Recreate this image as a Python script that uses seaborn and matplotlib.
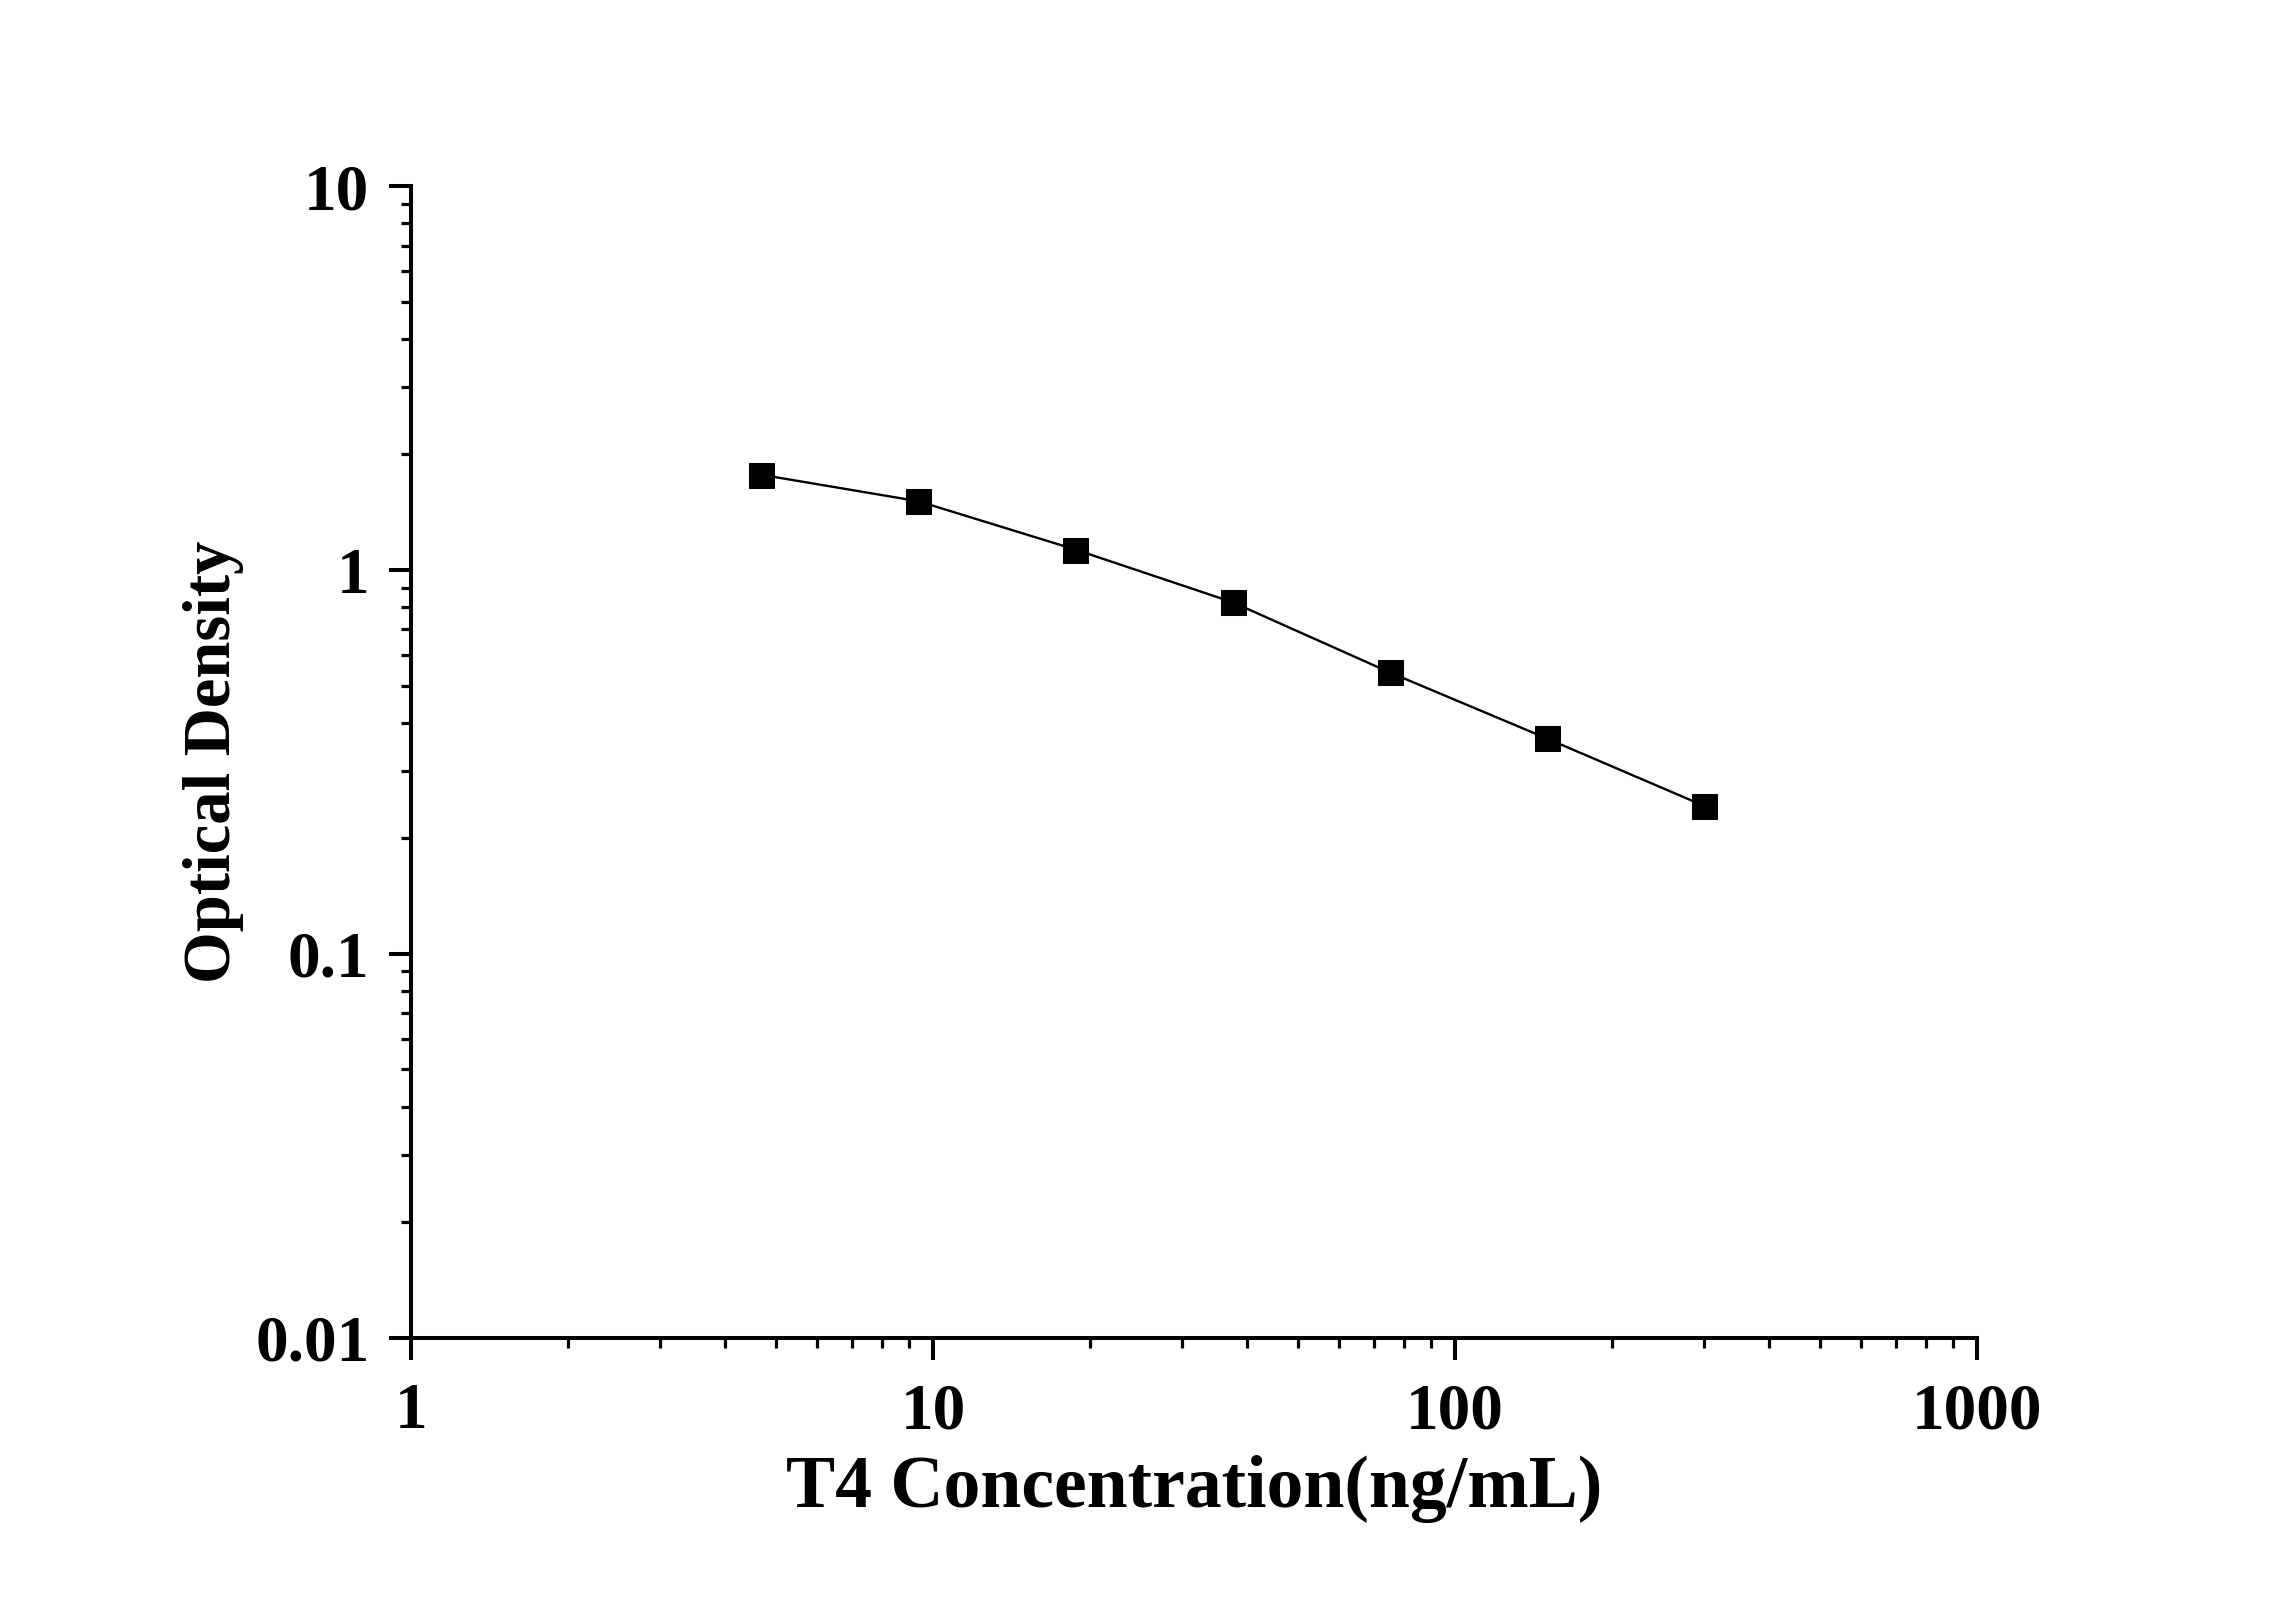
import matplotlib
matplotlib.use("Agg")
import matplotlib.pyplot as plt
import seaborn as sns
import pandas as pd
from matplotlib.ticker import LogLocator, FixedLocator, FixedFormatter, NullFormatter

concentration = [4.69, 9.38, 18.75, 37.5, 75, 150, 300]
optical_density = [1.77, 1.51, 1.13, 0.824, 0.541, 0.364, 0.243]
x_ticks = [1, 10, 100, 1000]
x_tick_labels = ["1", "10", "100", "1000"]
y_ticks = [0.01, 0.1, 1, 10]
y_tick_labels = ["0.01", "0.1", "1", "10"]

sns.set_style("ticks")
plt.rcParams['font.family'] = ['Liberation Serif', 'DejaVu Serif']
plt.rcParams['font.weight'] = 'bold'
plt.rcParams['text.color'] = 'black'
plt.rcParams['axes.labelcolor'] = 'black'
plt.rcParams['xtick.color'] = 'black'
plt.rcParams['ytick.color'] = 'black'
plt.rcParams['xtick.labelcolor'] = 'black'
plt.rcParams['ytick.labelcolor'] = 'black'

df = pd.DataFrame({"conc": concentration, "od": optical_density})

fig = plt.figure(figsize=(22.96, 16.04), dpi=100)
ax = fig.add_axes([0.179, 0.166, 0.682, 0.718])

sns.lineplot(data=df, x="conc", y="od", ax=ax, color="black", linewidth=1.7,
             marker="s", markersize=18, markeredgecolor="black",
             markerfacecolor="black", errorbar=None)

ax.set_xscale("log")
ax.set_yscale("log")
ax.set_xlim(1, 1000)
ax.set_ylim(0.01, 10)

ax.xaxis.set_major_locator(FixedLocator(x_ticks))
ax.xaxis.set_major_formatter(FixedFormatter(x_tick_labels))
ax.yaxis.set_major_locator(FixedLocator(y_ticks))
ax.yaxis.set_major_formatter(FixedFormatter(y_tick_labels))
ax.xaxis.set_minor_locator(LogLocator(base=10, subs=range(2, 10), numticks=20))
ax.yaxis.set_minor_locator(LogLocator(base=10, subs=range(2, 10), numticks=20))
ax.xaxis.set_minor_formatter(NullFormatter())
ax.yaxis.set_minor_formatter(NullFormatter())

for side in ["top", "right"]:
    ax.spines[side].set_visible(False)
for side in ["left", "bottom"]:
    ax.spines[side].set_linewidth(2.9)
    ax.spines[side].set_color("black")

ax.tick_params(axis="both", which="major", direction="out", length=16, width=2.9,
               color="black", labelcolor="black", labelsize=47, pad=14)
ax.tick_params(axis="x", which="major", pad=16)
ax.tick_params(axis="both", which="minor", direction="out", length=7.5, width=2.3,
               color="black")
for lab in ax.get_xticklabels() + ax.get_yticklabels():
    lab.set_fontweight("bold")
    lab.set_color("black")

ax.set_xlabel("T4 Concentration(ng/mL)", fontsize=53, fontweight="bold",
              labelpad=9, color="black")
ax.set_ylabel("Optical Density", fontsize=48, fontweight="bold",
              labelpad=8, color="black")

fig.savefig("out.png", dpi=100, facecolor="white")
